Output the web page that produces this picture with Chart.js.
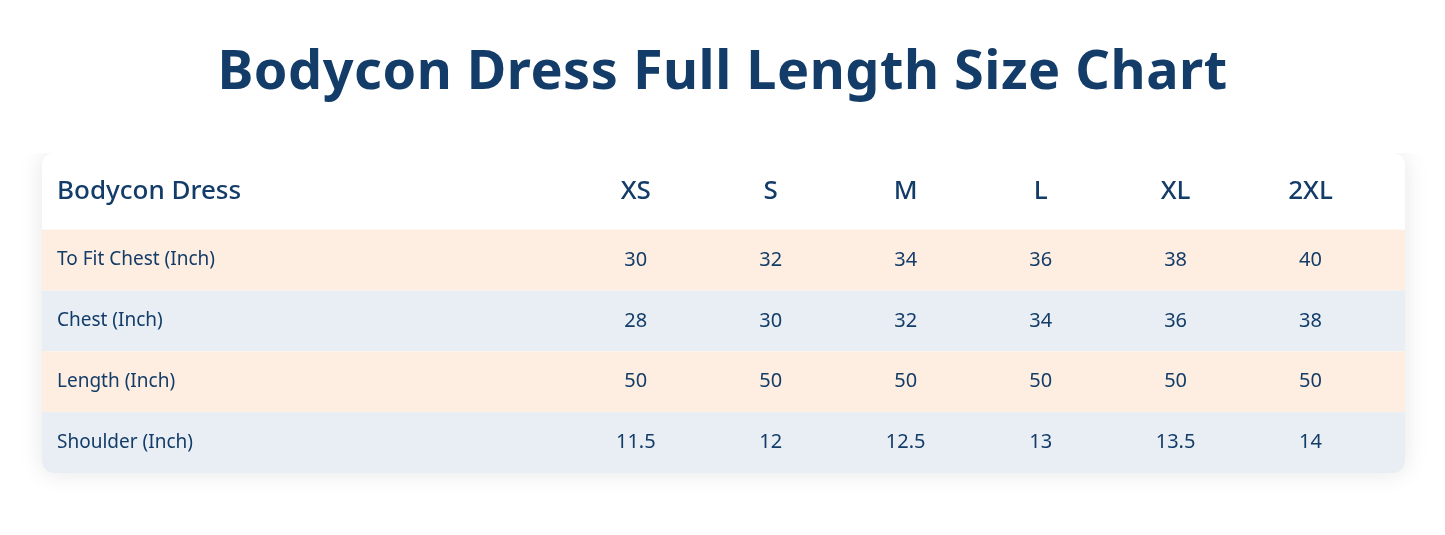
<!DOCTYPE html>
<html>
<head>
<meta charset="utf-8">
<script src="https://cdn.jsdelivr.net/npm/chart.js@4"></script>
<style>
  html, body { margin: 0; padding: 0; background: #fff; }
  h1 {
    margin: 0; height: 138px; padding-top: 15px; box-sizing: content-box;
    text-align: center; font-family: "Noto Sans", sans-serif; font-weight: 700;
    font-size: 54px; line-height: 106px; color: #133c68; letter-spacing: 0.5px;
  }
  #wrap { width: 1445px; height: 382px; position: relative; }
</style>
</head>
<body>
<h1>Bodycon Dress Full Length Size Chart</h1>
<div id="wrap"><canvas id="sizeChart"></canvas></div>
<script>
const headerLabel = "Bodycon Dress";
const sizes = ["XS", "S", "M", "L", "XL", "2XL"];
const rowLabels = ["To Fit Chest (Inch)", "Chest (Inch)", "Length (Inch)", "Shoulder (Inch)"];
const toFitChest = ["30", "32", "34", "36", "38", "40"];
const chest = ["28", "30", "32", "34", "36", "38"];
const length = ["50", "50", "50", "50", "50", "50"];
const shoulder = ["11.5", "12", "12.5", "13", "13.5", "14"];
const rows = [toFitChest, chest, length, shoulder];

const navy = "#133c68";
const rowColors = ["#fdeee1", "#e8eef3"];
const headerH = 1.26; // header band height in row units

// draws the card, row bands and cell text from the chart's scales
const tablePlugin = {
  id: "tablePlugin",
  beforeDraw(chart) {
    const { ctx, chartArea: a, scales: { x, y } } = chart;
    const bottom = y.getPixelForValue(headerH + rows.length);
    ctx.save();
    ctx.shadowColor = "rgba(0,0,0,0.10)";
    ctx.shadowBlur = 24;
    ctx.fillStyle = "#fff";
    ctx.beginPath();
    ctx.roundRect(a.left, a.top, a.right - a.left, bottom - a.top, 12);
    ctx.fill();
    ctx.shadowColor = "transparent";
    ctx.clip();
    rows.forEach((r, i) => {
      const t = y.getPixelForValue(headerH + i);
      const b = y.getPixelForValue(headerH + i + 1);
      ctx.fillStyle = rowColors[i % 2];
      ctx.fillRect(a.left, t, a.right - a.left, b - t);
    });
    ctx.restore();
  },
  afterDraw(chart) {
    const { ctx, chartArea: a, scales: { x, y } } = chart;
    ctx.save();
    ctx.fillStyle = navy;
    ctx.textBaseline = "middle";
    const hy = y.getPixelForValue(headerH / 2);
    ctx.font = "500 26px 'Noto Sans', sans-serif";
    ctx.textAlign = "left";
    ctx.fillText(headerLabel, a.left + 15, hy);
    ctx.textAlign = "center";
    sizes.forEach((s, j) => ctx.fillText(s, x.getPixelForValue(j), hy));
    rows.forEach((r, i) => {
      const cy = y.getPixelForValue(headerH + i + 0.5);
      ctx.font = "19px 'Noto Sans', sans-serif";
      ctx.textAlign = "left";
      ctx.fillText(rowLabels[i], a.left + 15, cy);
      ctx.font = "20px 'Noto Sans', sans-serif";
      ctx.textAlign = "center";
      r.forEach((v, j) => ctx.fillText(v, x.getPixelForValue(j), cy));
    });
    ctx.restore();
  }
};

new Chart(document.getElementById("sizeChart"), {
  type: "scatter",
  data: { datasets: [{ data: [] }] },
  options: {
    responsive: true,
    maintainAspectRatio: false,
    animation: false,
    layout: { padding: { left: 42, right: 40, top: 0, bottom: 0 } },
    plugins: { legend: { display: false }, tooltip: { enabled: false } },
    scales: {
      x: { type: "linear", min: -4.4, max: 5.7, display: false },
      y: { type: "linear", min: 0, max: (headerH + rows.length) * 382 / 320, reverse: true, display: false }
    }
  },
  plugins: [tablePlugin]
});
</script>
</body>
</html>
